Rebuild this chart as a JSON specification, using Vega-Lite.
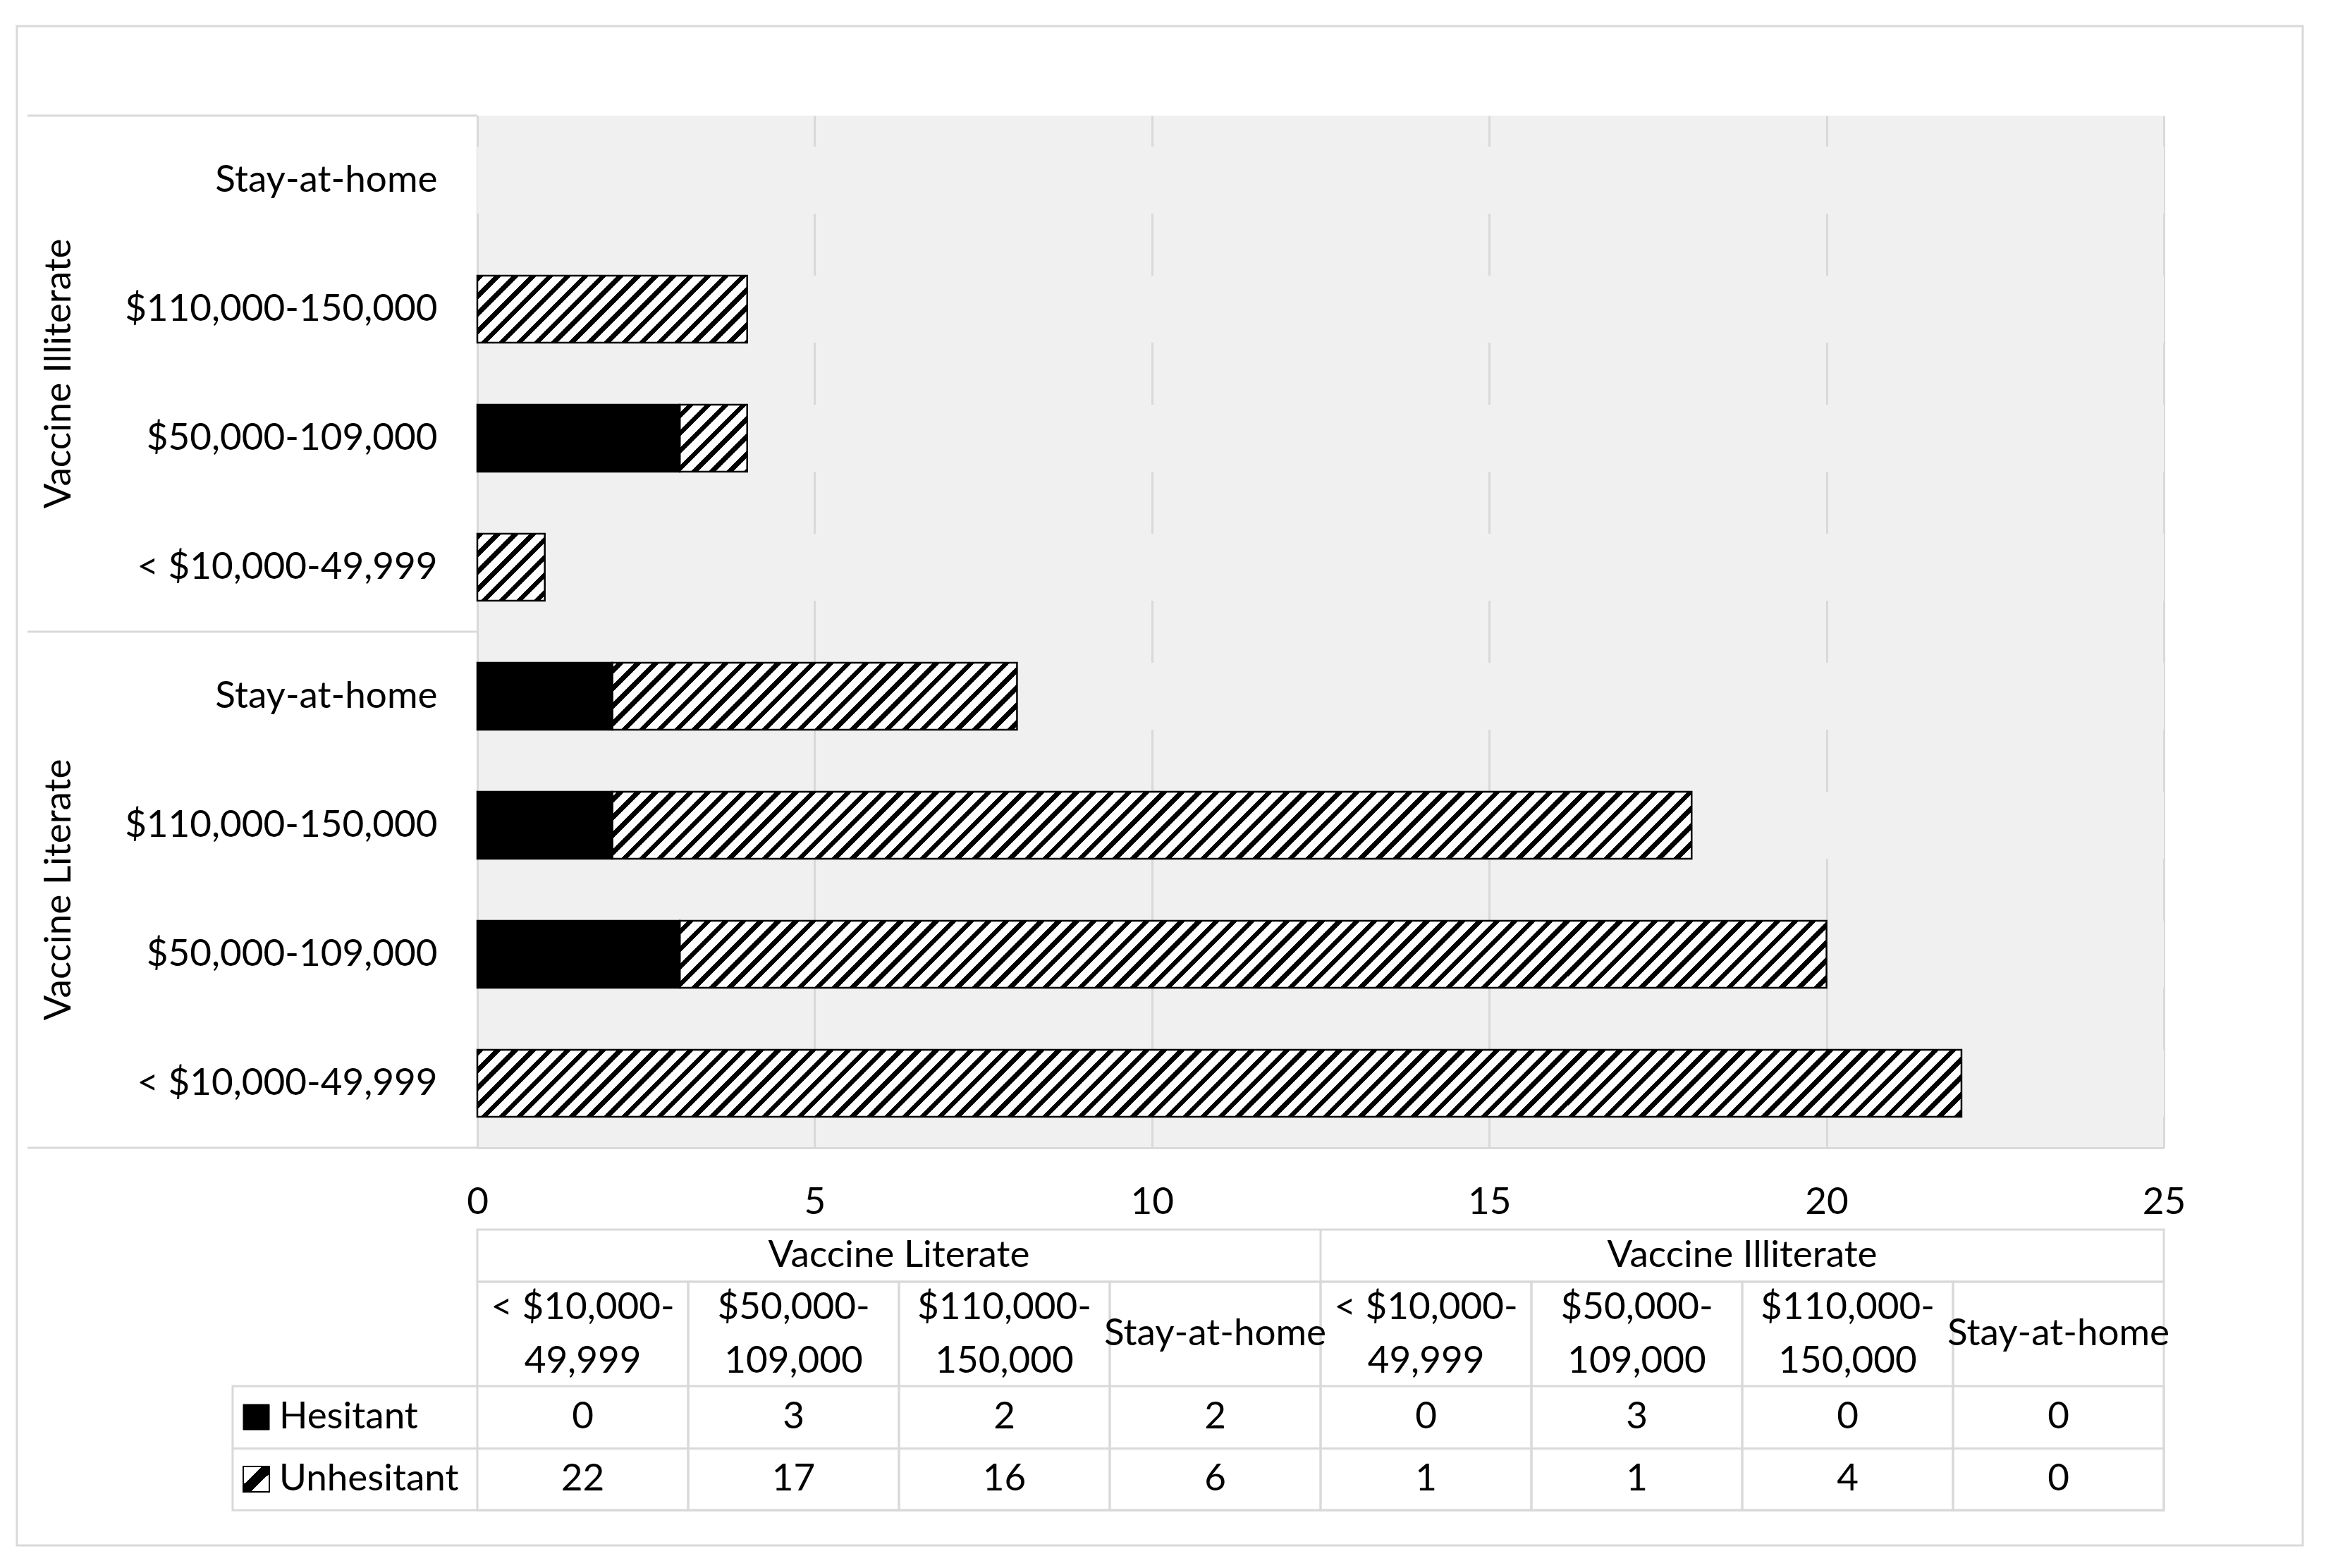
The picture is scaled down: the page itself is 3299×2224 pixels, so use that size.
{
  "$schema": "https://vega.github.io/schema/vega-lite/v6.json",
  "background": "white",
  "padding": {"left": 22, "top": 35, "right": 5, "bottom": 5},
  "bounds": "flush",
  "spacing": 116,
  "config": {
    "view": {"stroke": null},
    "font": "Lato",
    "text": {"font": "Lato", "fontSize": 53, "color": "#000000"}
  },
  "datasets": {
    "survey": [
      {"group": "Vaccine Literate", "income": "< $10,000-49,999", "category": "Vaccine Literate: < $10,000-49,999", "status": "Hesitant", "count": 0},
      {"group": "Vaccine Literate", "income": "< $10,000-49,999", "category": "Vaccine Literate: < $10,000-49,999", "status": "Unhesitant", "count": 22},
      {"group": "Vaccine Literate", "income": "$50,000-109,000", "category": "Vaccine Literate: $50,000-109,000", "status": "Hesitant", "count": 3},
      {"group": "Vaccine Literate", "income": "$50,000-109,000", "category": "Vaccine Literate: $50,000-109,000", "status": "Unhesitant", "count": 17},
      {"group": "Vaccine Literate", "income": "$110,000-150,000", "category": "Vaccine Literate: $110,000-150,000", "status": "Hesitant", "count": 2},
      {"group": "Vaccine Literate", "income": "$110,000-150,000", "category": "Vaccine Literate: $110,000-150,000", "status": "Unhesitant", "count": 16},
      {"group": "Vaccine Literate", "income": "Stay-at-home", "category": "Vaccine Literate: Stay-at-home", "status": "Hesitant", "count": 2},
      {"group": "Vaccine Literate", "income": "Stay-at-home", "category": "Vaccine Literate: Stay-at-home", "status": "Unhesitant", "count": 6},
      {"group": "Vaccine Illiterate", "income": "< $10,000-49,999", "category": "Vaccine Illiterate: < $10,000-49,999", "status": "Hesitant", "count": 0},
      {"group": "Vaccine Illiterate", "income": "< $10,000-49,999", "category": "Vaccine Illiterate: < $10,000-49,999", "status": "Unhesitant", "count": 1},
      {"group": "Vaccine Illiterate", "income": "$50,000-109,000", "category": "Vaccine Illiterate: $50,000-109,000", "status": "Hesitant", "count": 3},
      {"group": "Vaccine Illiterate", "income": "$50,000-109,000", "category": "Vaccine Illiterate: $50,000-109,000", "status": "Unhesitant", "count": 1},
      {"group": "Vaccine Illiterate", "income": "$110,000-150,000", "category": "Vaccine Illiterate: $110,000-150,000", "status": "Hesitant", "count": 0},
      {"group": "Vaccine Illiterate", "income": "$110,000-150,000", "category": "Vaccine Illiterate: $110,000-150,000", "status": "Unhesitant", "count": 4},
      {"group": "Vaccine Illiterate", "income": "Stay-at-home", "category": "Vaccine Illiterate: Stay-at-home", "status": "Hesitant", "count": 0},
      {"group": "Vaccine Illiterate", "income": "Stay-at-home", "category": "Vaccine Illiterate: Stay-at-home", "status": "Unhesitant", "count": 0}
    ]
  },
  "vconcat": [
    {
      "width": 2392,
      "height": 1464,
      "view": {"fill": "#f0f0f0", "stroke": null},
      "data": {"name": "survey"},
      "transform": [
        {"stack": "count", "groupby": ["category"], "sort": [{"field": "status", "order": "ascending"}], "as": ["x0", "x1"]}
      ],
      "resolve": {"scale": {"y": "independent"}},
      "layer": [
        {
          "transform": [{"filter": "datum.status === 'Unhesitant'"}],
          "mark": {
            "type": "bar",
            "height": {"band": 0.5191257},
            "stroke": null,
            "fill": {
              "gradient": "linear", "x1": 0, "y1": 0, "x2": 1.038079, "y2": 0.041229,
              "stops": [
                {"offset":0,"color":"#000"},{"offset":0.0038,"color":"#000"},{"offset":0.0038,"color":"#fff"},{"offset":0.01,"color":"#fff"},
                {"offset":0.01,"color":"#000"},{"offset":0.0138,"color":"#000"},{"offset":0.0138,"color":"#fff"},{"offset":0.02,"color":"#fff"},
                {"offset":0.02,"color":"#000"},{"offset":0.0238,"color":"#000"},{"offset":0.0238,"color":"#fff"},{"offset":0.03,"color":"#fff"},
                {"offset":0.03,"color":"#000"},{"offset":0.0338,"color":"#000"},{"offset":0.0338,"color":"#fff"},{"offset":0.04,"color":"#fff"},
                {"offset":0.04,"color":"#000"},{"offset":0.0438,"color":"#000"},{"offset":0.0438,"color":"#fff"},{"offset":0.05,"color":"#fff"},
                {"offset":0.05,"color":"#000"},{"offset":0.0538,"color":"#000"},{"offset":0.0538,"color":"#fff"},{"offset":0.06,"color":"#fff"},
                {"offset":0.06,"color":"#000"},{"offset":0.0638,"color":"#000"},{"offset":0.0638,"color":"#fff"},{"offset":0.07,"color":"#fff"},
                {"offset":0.07,"color":"#000"},{"offset":0.0738,"color":"#000"},{"offset":0.0738,"color":"#fff"},{"offset":0.08,"color":"#fff"},
                {"offset":0.08,"color":"#000"},{"offset":0.0838,"color":"#000"},{"offset":0.0838,"color":"#fff"},{"offset":0.09,"color":"#fff"},
                {"offset":0.09,"color":"#000"},{"offset":0.0938,"color":"#000"},{"offset":0.0938,"color":"#fff"},{"offset":0.10,"color":"#fff"},
                {"offset":0.10,"color":"#000"},{"offset":0.1038,"color":"#000"},{"offset":0.1038,"color":"#fff"},{"offset":0.11,"color":"#fff"},
                {"offset":0.11,"color":"#000"},{"offset":0.1138,"color":"#000"},{"offset":0.1138,"color":"#fff"},{"offset":0.12,"color":"#fff"},
                {"offset":0.12,"color":"#000"},{"offset":0.1238,"color":"#000"},{"offset":0.1238,"color":"#fff"},{"offset":0.13,"color":"#fff"},
                {"offset":0.13,"color":"#000"},{"offset":0.1338,"color":"#000"},{"offset":0.1338,"color":"#fff"},{"offset":0.14,"color":"#fff"},
                {"offset":0.14,"color":"#000"},{"offset":0.1438,"color":"#000"},{"offset":0.1438,"color":"#fff"},{"offset":0.15,"color":"#fff"},
                {"offset":0.15,"color":"#000"},{"offset":0.1538,"color":"#000"},{"offset":0.1538,"color":"#fff"},{"offset":0.16,"color":"#fff"},
                {"offset":0.16,"color":"#000"},{"offset":0.1638,"color":"#000"},{"offset":0.1638,"color":"#fff"},{"offset":0.17,"color":"#fff"},
                {"offset":0.17,"color":"#000"},{"offset":0.1738,"color":"#000"},{"offset":0.1738,"color":"#fff"},{"offset":0.18,"color":"#fff"},
                {"offset":0.18,"color":"#000"},{"offset":0.1838,"color":"#000"},{"offset":0.1838,"color":"#fff"},{"offset":0.19,"color":"#fff"},
                {"offset":0.19,"color":"#000"},{"offset":0.1938,"color":"#000"},{"offset":0.1938,"color":"#fff"},{"offset":0.20,"color":"#fff"},
                {"offset":0.20,"color":"#000"},{"offset":0.2038,"color":"#000"},{"offset":0.2038,"color":"#fff"},{"offset":0.21,"color":"#fff"},
                {"offset":0.21,"color":"#000"},{"offset":0.2138,"color":"#000"},{"offset":0.2138,"color":"#fff"},{"offset":0.22,"color":"#fff"},
                {"offset":0.22,"color":"#000"},{"offset":0.2238,"color":"#000"},{"offset":0.2238,"color":"#fff"},{"offset":0.23,"color":"#fff"},
                {"offset":0.23,"color":"#000"},{"offset":0.2338,"color":"#000"},{"offset":0.2338,"color":"#fff"},{"offset":0.24,"color":"#fff"},
                {"offset":0.24,"color":"#000"},{"offset":0.2438,"color":"#000"},{"offset":0.2438,"color":"#fff"},{"offset":0.25,"color":"#fff"},
                {"offset":0.25,"color":"#000"},{"offset":0.2538,"color":"#000"},{"offset":0.2538,"color":"#fff"},{"offset":0.26,"color":"#fff"},
                {"offset":0.26,"color":"#000"},{"offset":0.2638,"color":"#000"},{"offset":0.2638,"color":"#fff"},{"offset":0.27,"color":"#fff"},
                {"offset":0.27,"color":"#000"},{"offset":0.2738,"color":"#000"},{"offset":0.2738,"color":"#fff"},{"offset":0.28,"color":"#fff"},
                {"offset":0.28,"color":"#000"},{"offset":0.2838,"color":"#000"},{"offset":0.2838,"color":"#fff"},{"offset":0.29,"color":"#fff"},
                {"offset":0.29,"color":"#000"},{"offset":0.2938,"color":"#000"},{"offset":0.2938,"color":"#fff"},{"offset":0.30,"color":"#fff"},
                {"offset":0.30,"color":"#000"},{"offset":0.3038,"color":"#000"},{"offset":0.3038,"color":"#fff"},{"offset":0.31,"color":"#fff"},
                {"offset":0.31,"color":"#000"},{"offset":0.3138,"color":"#000"},{"offset":0.3138,"color":"#fff"},{"offset":0.32,"color":"#fff"},
                {"offset":0.32,"color":"#000"},{"offset":0.3238,"color":"#000"},{"offset":0.3238,"color":"#fff"},{"offset":0.33,"color":"#fff"},
                {"offset":0.33,"color":"#000"},{"offset":0.3338,"color":"#000"},{"offset":0.3338,"color":"#fff"},{"offset":0.34,"color":"#fff"},
                {"offset":0.34,"color":"#000"},{"offset":0.3438,"color":"#000"},{"offset":0.3438,"color":"#fff"},{"offset":0.35,"color":"#fff"},
                {"offset":0.35,"color":"#000"},{"offset":0.3538,"color":"#000"},{"offset":0.3538,"color":"#fff"},{"offset":0.36,"color":"#fff"},
                {"offset":0.36,"color":"#000"},{"offset":0.3638,"color":"#000"},{"offset":0.3638,"color":"#fff"},{"offset":0.37,"color":"#fff"},
                {"offset":0.37,"color":"#000"},{"offset":0.3738,"color":"#000"},{"offset":0.3738,"color":"#fff"},{"offset":0.38,"color":"#fff"},
                {"offset":0.38,"color":"#000"},{"offset":0.3838,"color":"#000"},{"offset":0.3838,"color":"#fff"},{"offset":0.39,"color":"#fff"},
                {"offset":0.39,"color":"#000"},{"offset":0.3938,"color":"#000"},{"offset":0.3938,"color":"#fff"},{"offset":0.40,"color":"#fff"},
                {"offset":0.40,"color":"#000"},{"offset":0.4038,"color":"#000"},{"offset":0.4038,"color":"#fff"},{"offset":0.41,"color":"#fff"},
                {"offset":0.41,"color":"#000"},{"offset":0.4138,"color":"#000"},{"offset":0.4138,"color":"#fff"},{"offset":0.42,"color":"#fff"},
                {"offset":0.42,"color":"#000"},{"offset":0.4238,"color":"#000"},{"offset":0.4238,"color":"#fff"},{"offset":0.43,"color":"#fff"},
                {"offset":0.43,"color":"#000"},{"offset":0.4338,"color":"#000"},{"offset":0.4338,"color":"#fff"},{"offset":0.44,"color":"#fff"},
                {"offset":0.44,"color":"#000"},{"offset":0.4438,"color":"#000"},{"offset":0.4438,"color":"#fff"},{"offset":0.45,"color":"#fff"},
                {"offset":0.45,"color":"#000"},{"offset":0.4538,"color":"#000"},{"offset":0.4538,"color":"#fff"},{"offset":0.46,"color":"#fff"},
                {"offset":0.46,"color":"#000"},{"offset":0.4638,"color":"#000"},{"offset":0.4638,"color":"#fff"},{"offset":0.47,"color":"#fff"},
                {"offset":0.47,"color":"#000"},{"offset":0.4738,"color":"#000"},{"offset":0.4738,"color":"#fff"},{"offset":0.48,"color":"#fff"},
                {"offset":0.48,"color":"#000"},{"offset":0.4838,"color":"#000"},{"offset":0.4838,"color":"#fff"},{"offset":0.49,"color":"#fff"},
                {"offset":0.49,"color":"#000"},{"offset":0.4938,"color":"#000"},{"offset":0.4938,"color":"#fff"},{"offset":0.50,"color":"#fff"},
                {"offset":0.50,"color":"#000"},{"offset":0.5038,"color":"#000"},{"offset":0.5038,"color":"#fff"},{"offset":0.51,"color":"#fff"},
                {"offset":0.51,"color":"#000"},{"offset":0.5138,"color":"#000"},{"offset":0.5138,"color":"#fff"},{"offset":0.52,"color":"#fff"},
                {"offset":0.52,"color":"#000"},{"offset":0.5238,"color":"#000"},{"offset":0.5238,"color":"#fff"},{"offset":0.53,"color":"#fff"},
                {"offset":0.53,"color":"#000"},{"offset":0.5338,"color":"#000"},{"offset":0.5338,"color":"#fff"},{"offset":0.54,"color":"#fff"},
                {"offset":0.54,"color":"#000"},{"offset":0.5438,"color":"#000"},{"offset":0.5438,"color":"#fff"},{"offset":0.55,"color":"#fff"},
                {"offset":0.55,"color":"#000"},{"offset":0.5538,"color":"#000"},{"offset":0.5538,"color":"#fff"},{"offset":0.56,"color":"#fff"},
                {"offset":0.56,"color":"#000"},{"offset":0.5638,"color":"#000"},{"offset":0.5638,"color":"#fff"},{"offset":0.57,"color":"#fff"},
                {"offset":0.57,"color":"#000"},{"offset":0.5738,"color":"#000"},{"offset":0.5738,"color":"#fff"},{"offset":0.58,"color":"#fff"},
                {"offset":0.58,"color":"#000"},{"offset":0.5838,"color":"#000"},{"offset":0.5838,"color":"#fff"},{"offset":0.59,"color":"#fff"},
                {"offset":0.59,"color":"#000"},{"offset":0.5938,"color":"#000"},{"offset":0.5938,"color":"#fff"},{"offset":0.60,"color":"#fff"},
                {"offset":0.60,"color":"#000"},{"offset":0.6038,"color":"#000"},{"offset":0.6038,"color":"#fff"},{"offset":0.61,"color":"#fff"},
                {"offset":0.61,"color":"#000"},{"offset":0.6138,"color":"#000"},{"offset":0.6138,"color":"#fff"},{"offset":0.62,"color":"#fff"},
                {"offset":0.62,"color":"#000"},{"offset":0.6238,"color":"#000"},{"offset":0.6238,"color":"#fff"},{"offset":0.63,"color":"#fff"},
                {"offset":0.63,"color":"#000"},{"offset":0.6338,"color":"#000"},{"offset":0.6338,"color":"#fff"},{"offset":0.64,"color":"#fff"},
                {"offset":0.64,"color":"#000"},{"offset":0.6438,"color":"#000"},{"offset":0.6438,"color":"#fff"},{"offset":0.65,"color":"#fff"},
                {"offset":0.65,"color":"#000"},{"offset":0.6538,"color":"#000"},{"offset":0.6538,"color":"#fff"},{"offset":0.66,"color":"#fff"},
                {"offset":0.66,"color":"#000"},{"offset":0.6638,"color":"#000"},{"offset":0.6638,"color":"#fff"},{"offset":0.67,"color":"#fff"},
                {"offset":0.67,"color":"#000"},{"offset":0.6738,"color":"#000"},{"offset":0.6738,"color":"#fff"},{"offset":0.68,"color":"#fff"},
                {"offset":0.68,"color":"#000"},{"offset":0.6838,"color":"#000"},{"offset":0.6838,"color":"#fff"},{"offset":0.69,"color":"#fff"},
                {"offset":0.69,"color":"#000"},{"offset":0.6938,"color":"#000"},{"offset":0.6938,"color":"#fff"},{"offset":0.70,"color":"#fff"},
                {"offset":0.70,"color":"#000"},{"offset":0.7038,"color":"#000"},{"offset":0.7038,"color":"#fff"},{"offset":0.71,"color":"#fff"},
                {"offset":0.71,"color":"#000"},{"offset":0.7138,"color":"#000"},{"offset":0.7138,"color":"#fff"},{"offset":0.72,"color":"#fff"},
                {"offset":0.72,"color":"#000"},{"offset":0.7238,"color":"#000"},{"offset":0.7238,"color":"#fff"},{"offset":0.73,"color":"#fff"},
                {"offset":0.73,"color":"#000"},{"offset":0.7338,"color":"#000"},{"offset":0.7338,"color":"#fff"},{"offset":0.74,"color":"#fff"},
                {"offset":0.74,"color":"#000"},{"offset":0.7438,"color":"#000"},{"offset":0.7438,"color":"#fff"},{"offset":0.75,"color":"#fff"},
                {"offset":0.75,"color":"#000"},{"offset":0.7538,"color":"#000"},{"offset":0.7538,"color":"#fff"},{"offset":0.76,"color":"#fff"},
                {"offset":0.76,"color":"#000"},{"offset":0.7638,"color":"#000"},{"offset":0.7638,"color":"#fff"},{"offset":0.77,"color":"#fff"},
                {"offset":0.77,"color":"#000"},{"offset":0.7738,"color":"#000"},{"offset":0.7738,"color":"#fff"},{"offset":0.78,"color":"#fff"},
                {"offset":0.78,"color":"#000"},{"offset":0.7838,"color":"#000"},{"offset":0.7838,"color":"#fff"},{"offset":0.79,"color":"#fff"},
                {"offset":0.79,"color":"#000"},{"offset":0.7938,"color":"#000"},{"offset":0.7938,"color":"#fff"},{"offset":0.80,"color":"#fff"},
                {"offset":0.80,"color":"#000"},{"offset":0.8038,"color":"#000"},{"offset":0.8038,"color":"#fff"},{"offset":0.81,"color":"#fff"},
                {"offset":0.81,"color":"#000"},{"offset":0.8138,"color":"#000"},{"offset":0.8138,"color":"#fff"},{"offset":0.82,"color":"#fff"},
                {"offset":0.82,"color":"#000"},{"offset":0.8238,"color":"#000"},{"offset":0.8238,"color":"#fff"},{"offset":0.83,"color":"#fff"},
                {"offset":0.83,"color":"#000"},{"offset":0.8338,"color":"#000"},{"offset":0.8338,"color":"#fff"},{"offset":0.84,"color":"#fff"},
                {"offset":0.84,"color":"#000"},{"offset":0.8438,"color":"#000"},{"offset":0.8438,"color":"#fff"},{"offset":0.85,"color":"#fff"},
                {"offset":0.85,"color":"#000"},{"offset":0.8538,"color":"#000"},{"offset":0.8538,"color":"#fff"},{"offset":0.86,"color":"#fff"},
                {"offset":0.86,"color":"#000"},{"offset":0.8638,"color":"#000"},{"offset":0.8638,"color":"#fff"},{"offset":0.87,"color":"#fff"},
                {"offset":0.87,"color":"#000"},{"offset":0.8738,"color":"#000"},{"offset":0.8738,"color":"#fff"},{"offset":0.88,"color":"#fff"},
                {"offset":0.88,"color":"#000"},{"offset":0.8838,"color":"#000"},{"offset":0.8838,"color":"#fff"},{"offset":0.89,"color":"#fff"},
                {"offset":0.89,"color":"#000"},{"offset":0.8938,"color":"#000"},{"offset":0.8938,"color":"#fff"},{"offset":0.90,"color":"#fff"},
                {"offset":0.90,"color":"#000"},{"offset":0.9038,"color":"#000"},{"offset":0.9038,"color":"#fff"},{"offset":0.91,"color":"#fff"},
                {"offset":0.91,"color":"#000"},{"offset":0.9138,"color":"#000"},{"offset":0.9138,"color":"#fff"},{"offset":0.92,"color":"#fff"},
                {"offset":0.92,"color":"#000"},{"offset":0.9238,"color":"#000"},{"offset":0.9238,"color":"#fff"},{"offset":0.93,"color":"#fff"},
                {"offset":0.93,"color":"#000"},{"offset":0.9338,"color":"#000"},{"offset":0.9338,"color":"#fff"},{"offset":0.94,"color":"#fff"},
                {"offset":0.94,"color":"#000"},{"offset":0.9438,"color":"#000"},{"offset":0.9438,"color":"#fff"},{"offset":0.95,"color":"#fff"},
                {"offset":0.95,"color":"#000"},{"offset":0.9538,"color":"#000"},{"offset":0.9538,"color":"#fff"},{"offset":0.96,"color":"#fff"},
                {"offset":0.96,"color":"#000"},{"offset":0.9638,"color":"#000"},{"offset":0.9638,"color":"#fff"},{"offset":0.97,"color":"#fff"},
                {"offset":0.97,"color":"#000"},{"offset":0.9738,"color":"#000"},{"offset":0.9738,"color":"#fff"},{"offset":0.98,"color":"#fff"},
                {"offset":0.98,"color":"#000"},{"offset":0.9838,"color":"#000"},{"offset":0.9838,"color":"#fff"},{"offset":0.99,"color":"#fff"},
                {"offset":0.99,"color":"#000"},{"offset":0.9938,"color":"#000"},{"offset":0.9938,"color":"#fff"},{"offset":1,"color":"#fff"}
              ]
            }
          },
          "encoding": {
            "y": {
              "field": "category", "type": "nominal",
              "scale": {"domain": ["Vaccine Illiterate: Stay-at-home", "Vaccine Illiterate: $110,000-150,000", "Vaccine Illiterate: $50,000-109,000", "Vaccine Illiterate: < $10,000-49,999", "Vaccine Literate: Stay-at-home", "Vaccine Literate: $110,000-150,000", "Vaccine Literate: $50,000-109,000", "Vaccine Literate: < $10,000-49,999"], "paddingInner": 0, "paddingOuter": 0},
              "axis": {
                "title": null, "labelExpr": "split(datum.label, ': ')[1]",
                "domain": true, "domainColor": "#d9d9d9", "domainWidth": 3,
                "ticks": false, "tickSize": 0, "grid": false,
                "labelPadding": 57, "labelFont": "Lato", "labelFontSize": 53, "labelColor": "#000000", "labelLimit": 1000, "zindex": 0
              }
            },
            "x": {
              "datum": 0, "type": "quantitative", "title": null,
              "scale": {"domain": [0, 25], "nice": false, "zero": false},
              "axis": {
                "title": null, "values": [0, 5, 10, 15, 20, 25], "format": "d",
                "grid": true, "gridColor": "#d9d9d9", "gridWidth": 3,
                "domain": true, "domainColor": "#d9d9d9", "domainWidth": 3,
                "ticks": false, "tickSize": 0,
                "labelFont": "Lato", "labelFontSize": 53, "labelColor": "#000000",
                "labelPadding": 77, "labelBaseline": "middle", "labelFlush": false, "labelOverlap": false, "zindex": 0
              }
            },
            "x2": {"datum": 25}
          }
        },
        {
          "transform": [{"filter": "datum.status === 'Unhesitant'"}],
          "mark": {"type": "bar", "height": {"band": 0.5191257}, "fill": "#f0f0f0", "stroke": null},
          "encoding": {
            "y": {"field": "category", "type": "nominal", "axis": null,
              "scale": {"domain": ["Vaccine Illiterate: Stay-at-home", "Vaccine Illiterate: $110,000-150,000", "Vaccine Illiterate: $50,000-109,000", "Vaccine Illiterate: < $10,000-49,999", "Vaccine Literate: Stay-at-home", "Vaccine Literate: $110,000-150,000", "Vaccine Literate: $50,000-109,000", "Vaccine Literate: < $10,000-49,999"], "paddingInner": 0, "paddingOuter": 0}},
            "x": {"field": "x1", "type": "quantitative", "title": null, "scale": {"domain": [0, 25], "nice": false, "zero": false}},
            "x2": {"datum": 25}
          }
        },
        {
          "transform": [{"filter": "datum.status === 'Hesitant' && datum.count > 0"}],
          "mark": {"type": "bar", "height": {"band": 0.5191257}, "fill": "#000000", "stroke": "#000000", "strokeWidth": 2.5},
          "encoding": {
            "y": {"field": "category", "type": "nominal", "axis": null,
              "scale": {"domain": ["Vaccine Illiterate: Stay-at-home", "Vaccine Illiterate: $110,000-150,000", "Vaccine Illiterate: $50,000-109,000", "Vaccine Illiterate: < $10,000-49,999", "Vaccine Literate: Stay-at-home", "Vaccine Literate: $110,000-150,000", "Vaccine Literate: $50,000-109,000", "Vaccine Literate: < $10,000-49,999"], "paddingInner": 0, "paddingOuter": 0}},
            "x": {"field": "x0", "type": "quantitative", "title": null, "scale": {"domain": [0, 25], "nice": false, "zero": false}},
            "x2": {"field": "x1"}
          }
        },
        {
          "transform": [{"filter": "datum.status === 'Unhesitant' && datum.count > 0"}],
          "mark": {"type": "bar", "height": {"band": 0.5191257}, "fill": "transparent", "stroke": "#000000", "strokeWidth": 2.5},
          "encoding": {
            "y": {"field": "category", "type": "nominal", "axis": null,
              "scale": {"domain": ["Vaccine Illiterate: Stay-at-home", "Vaccine Illiterate: $110,000-150,000", "Vaccine Illiterate: $50,000-109,000", "Vaccine Illiterate: < $10,000-49,999", "Vaccine Literate: Stay-at-home", "Vaccine Literate: $110,000-150,000", "Vaccine Literate: $50,000-109,000", "Vaccine Literate: < $10,000-49,999"], "paddingInner": 0, "paddingOuter": 0}},
            "x": {"field": "x0", "type": "quantitative", "title": null, "scale": {"domain": [0, 25], "nice": false, "zero": false}},
            "x2": {"field": "x1"}
          }
        },
        {
          "data": {"values": [{}]},
          "mark": {"type": "rule", "stroke": "#d9d9d9", "strokeWidth": 3},
          "encoding": {
            "x": {"datum": -6.668, "type": "quantitative", "title": null, "scale": {"domain": [0, 25], "nice": false, "zero": false}},
            "x2": {"datum": 0},
            "y": {"datum": 8, "type": "quantitative", "axis": null, "scale": {"domain": [0, 8], "nice": false, "zero": false}}
          }
        },
        {
          "data": {"values": [{}]},
          "mark": {"type": "rule", "stroke": "#d9d9d9", "strokeWidth": 3},
          "encoding": {
            "x": {"datum": -6.668, "type": "quantitative", "title": null, "scale": {"domain": [0, 25], "nice": false, "zero": false}},
            "x2": {"datum": 0},
            "y": {"datum": 4, "type": "quantitative", "axis": null, "scale": {"domain": [0, 8], "nice": false, "zero": false}}
          }
        },
        {
          "data": {"values": [{}]},
          "mark": {"type": "rule", "stroke": "#d9d9d9", "strokeWidth": 3},
          "encoding": {
            "x": {"datum": -6.668, "type": "quantitative", "title": null, "scale": {"domain": [0, 25], "nice": false, "zero": false}},
            "x2": {"datum": 0},
            "y": {"datum": 0, "type": "quantitative", "axis": null, "scale": {"domain": [0, 8], "nice": false, "zero": false}}
          }
        },
        {
          "transform": [{"aggregate": [{"op": "count", "as": "n"}], "groupby": ["group"]}],
          "mark": {"type": "text", "angle": 270, "align": "center", "baseline": "middle", "fontSize": 53},
          "encoding": {
            "text": {"field": "group"},
            "x": {"datum": -6.198, "type": "quantitative", "title": null, "scale": {"domain": [0, 25], "nice": false, "zero": false}},
            "y": {"field": "group", "type": "nominal", "axis": null, "scale": {"type": "band", "domain": ["Vaccine Illiterate", "Vaccine Literate"], "paddingInner": 0, "paddingOuter": 0}}
          }
        }
      ]
    },
    {
      "width": 2392,
      "height": 398,
      "view": {"stroke": null},
      "data": {"name": "survey"},
      "resolve": {"scale": {"x": "independent"}},
      "layer": [
        {
          "transform": [{"filter": "datum.status === 'Hesitant'"}],
          "mark": {"type": "rect", "fill": null, "stroke": "#d9d9d9", "strokeWidth": 3},
          "encoding": {
            "x": {"field": "category", "type": "nominal", "axis": null, "scale": {"type": "band", "domain": ["Vaccine Literate: < $10,000-49,999", "Vaccine Literate: $50,000-109,000", "Vaccine Literate: $110,000-150,000", "Vaccine Literate: Stay-at-home", "Vaccine Illiterate: < $10,000-49,999", "Vaccine Illiterate: $50,000-109,000", "Vaccine Illiterate: $110,000-150,000", "Vaccine Illiterate: Stay-at-home"], "paddingInner": 0, "paddingOuter": 0}},
            "y": {"datum": 74, "type": "quantitative", "axis": null, "scale": {"domain": [0, 398], "reverse": true, "nice": false, "zero": false}},
            "y2": {"datum": 398}
          }
        },
        {
          "data": {"values": [{}]},
          "mark": {"type": "rect", "fill": null, "stroke": "#d9d9d9", "strokeWidth": 3},
          "encoding": {
            "x": {"datum": 0, "type": "quantitative", "axis": null, "scale": {"domain": [0, 25], "nice": false, "zero": false}},
            "x2": {"datum": 25},
            "y": {"datum": 0, "type": "quantitative", "axis": null, "scale": {"domain": [0, 398], "reverse": true, "nice": false, "zero": false}},
            "y2": {"datum": 74}
          }
        },
        {
          "data": {"values": [{}]},
          "mark": {"type": "rule", "stroke": "#d9d9d9", "strokeWidth": 3},
          "encoding": {
            "x": {"datum": 12.5, "type": "quantitative", "axis": null, "scale": {"domain": [0, 25], "nice": false, "zero": false}},
            "y": {"datum": 0, "type": "quantitative", "axis": null, "scale": {"domain": [0, 398], "reverse": true, "nice": false, "zero": false}},
            "y2": {"datum": 74}
          }
        },
        {
          "data": {"values": [{}]},
          "mark": {"type": "rect", "fill": null, "stroke": "#d9d9d9", "strokeWidth": 3},
          "encoding": {
            "x": {"datum": -3.627, "type": "quantitative", "axis": null, "scale": {"domain": [0, 25], "nice": false, "zero": false}},
            "x2": {"datum": 25},
            "y": {"datum": 222, "type": "quantitative", "axis": null, "scale": {"domain": [0, 398], "reverse": true, "nice": false, "zero": false}},
            "y2": {"datum": 310.5}
          }
        },
        {
          "data": {"values": [{}]},
          "mark": {"type": "rect", "fill": null, "stroke": "#d9d9d9", "strokeWidth": 3},
          "encoding": {
            "x": {"datum": -3.627, "type": "quantitative", "axis": null, "scale": {"domain": [0, 25], "nice": false, "zero": false}},
            "x2": {"datum": 25},
            "y": {"datum": 310.5, "type": "quantitative", "axis": null, "scale": {"domain": [0, 398], "reverse": true, "nice": false, "zero": false}},
            "y2": {"datum": 398}
          }
        },
        {
          "data": {"values": [{}]},
          "mark": {"type": "rect", "fill": null, "stroke": "#d9d9d9", "strokeWidth": 3},
          "encoding": {
            "x": {"datum": -6.825, "type": "quantitative", "axis": null, "scale": {"domain": [0, 25], "nice": false, "zero": false}},
            "x2": {"datum": 27.059},
            "y": {"datum": -1707, "type": "quantitative", "axis": null, "scale": {"domain": [0, 398], "reverse": true, "nice": false, "zero": false}},
            "y2": {"datum": 448}
          }
        },
        {
          "transform": [{"aggregate": [{"op": "count", "as": "n"}], "groupby": ["group"]}],
          "mark": {"type": "text", "align": "center", "baseline": "middle"},
          "encoding": {
            "text": {"field": "group"},
            "x": {"field": "group", "type": "nominal", "axis": null, "scale": {"type": "band", "domain": ["Vaccine Literate", "Vaccine Illiterate"], "paddingInner": 0, "paddingOuter": 0}},
            "y": {"datum": 37, "type": "quantitative", "axis": null, "scale": {"domain": [0, 398], "reverse": true, "nice": false, "zero": false}}
          }
        },
        {
          "transform": [{"filter": "datum.status === 'Hesitant' && datum.income !== 'Stay-at-home'"}],
          "mark": {"type": "text", "align": "center", "baseline": "middle", "lineHeight": 76, "lineBreak": {"expr": "regexp('(?<=-)(?=[0-9])')"}},
          "encoding": {
            "text": {"field": "income"},
            "x": {"field": "category", "type": "nominal", "axis": null, "scale": {"type": "band", "domain": ["Vaccine Literate: < $10,000-49,999", "Vaccine Literate: $50,000-109,000", "Vaccine Literate: $110,000-150,000", "Vaccine Literate: Stay-at-home", "Vaccine Illiterate: < $10,000-49,999", "Vaccine Illiterate: $50,000-109,000", "Vaccine Illiterate: $110,000-150,000", "Vaccine Illiterate: Stay-at-home"], "paddingInner": 0, "paddingOuter": 0}},
            "y": {"datum": 111, "type": "quantitative", "axis": null, "scale": {"domain": [0, 398], "reverse": true, "nice": false, "zero": false}}
          }
        },
        {
          "transform": [{"filter": "datum.status === 'Hesitant' && datum.income === 'Stay-at-home'"}],
          "mark": {"type": "text", "align": "center", "baseline": "middle"},
          "encoding": {
            "text": {"field": "income"},
            "x": {"field": "category", "type": "nominal", "axis": null, "scale": {"type": "band", "domain": ["Vaccine Literate: < $10,000-49,999", "Vaccine Literate: $50,000-109,000", "Vaccine Literate: $110,000-150,000", "Vaccine Literate: Stay-at-home", "Vaccine Illiterate: < $10,000-49,999", "Vaccine Illiterate: $50,000-109,000", "Vaccine Illiterate: $110,000-150,000", "Vaccine Illiterate: Stay-at-home"], "paddingInner": 0, "paddingOuter": 0}},
            "y": {"datum": 148, "type": "quantitative", "axis": null, "scale": {"domain": [0, 398], "reverse": true, "nice": false, "zero": false}}
          }
        },
        {
          "transform": [{"filter": "datum.status === 'Hesitant'"}],
          "mark": {"type": "text", "align": "center", "baseline": "middle"},
          "encoding": {
            "text": {"field": "count", "type": "quantitative"},
            "x": {"field": "category", "type": "nominal", "axis": null, "scale": {"type": "band", "domain": ["Vaccine Literate: < $10,000-49,999", "Vaccine Literate: $50,000-109,000", "Vaccine Literate: $110,000-150,000", "Vaccine Literate: Stay-at-home", "Vaccine Illiterate: < $10,000-49,999", "Vaccine Illiterate: $50,000-109,000", "Vaccine Illiterate: $110,000-150,000", "Vaccine Illiterate: Stay-at-home"], "paddingInner": 0, "paddingOuter": 0}},
            "y": {"datum": 266, "type": "quantitative", "axis": null, "scale": {"domain": [0, 398], "reverse": true, "nice": false, "zero": false}}
          }
        },
        {
          "transform": [{"filter": "datum.status === 'Unhesitant'"}],
          "mark": {"type": "text", "align": "center", "baseline": "middle"},
          "encoding": {
            "text": {"field": "count", "type": "quantitative"},
            "x": {"field": "category", "type": "nominal", "axis": null, "scale": {"type": "band", "domain": ["Vaccine Literate: < $10,000-49,999", "Vaccine Literate: $50,000-109,000", "Vaccine Literate: $110,000-150,000", "Vaccine Literate: Stay-at-home", "Vaccine Illiterate: < $10,000-49,999", "Vaccine Illiterate: $50,000-109,000", "Vaccine Illiterate: $110,000-150,000", "Vaccine Illiterate: Stay-at-home"], "paddingInner": 0, "paddingOuter": 0}},
            "y": {"datum": 354, "type": "quantitative", "axis": null, "scale": {"domain": [0, 398], "reverse": true, "nice": false, "zero": false}}
          }
        },
        {
          "transform": [{"filter": "datum.status === 'Hesitant'"}, {"aggregate": [{"op": "count", "as": "n"}], "groupby": ["status"]}],
          "layer": [
            {
              "mark": {"type": "rect", "fill": "#000000", "stroke": "#000000", "strokeWidth": 1},
              "encoding": {
                "x": {"datum": -3.470, "type": "quantitative", "axis": null, "scale": {"domain": [0, 25], "nice": false, "zero": false}},
                "x2": {"datum": -3.083},
                "y": {"datum": 248, "type": "quantitative", "axis": null, "scale": {"domain": [0, 398], "reverse": true, "nice": false, "zero": false}},
                "y2": {"datum": 284}
              }
            },
            {
              "mark": {"type": "text", "align": "left", "baseline": "middle"},
              "encoding": {
                "text": {"field": "status"},
                "x": {"datum": -2.937, "type": "quantitative", "axis": null, "scale": {"domain": [0, 25], "nice": false, "zero": false}},
                "y": {"datum": 266, "type": "quantitative", "axis": null, "scale": {"domain": [0, 398], "reverse": true, "nice": false, "zero": false}}
              }
            }
          ]
        },
        {
          "transform": [{"filter": "datum.status === 'Unhesitant'"}, {"aggregate": [{"op": "count", "as": "n"}], "groupby": ["status"]}],
          "layer": [
            {
              "mark": {
                "type": "rect", "stroke": "#000000", "strokeWidth": 2,
                "fill": {
                  "gradient": "linear", "x1": 0, "y1": 0, "x2": 1, "y2": 1,
                  "stops": [
                    {"offset": 0, "color": "#fff"}, {"offset": 0.36, "color": "#fff"},
                    {"offset": 0.36, "color": "#000"}, {"offset": 0.64, "color": "#000"},
                    {"offset": 0.64, "color": "#fff"}, {"offset": 1, "color": "#fff"}
                  ]
                }
              },
              "encoding": {
                "x": {"datum": -3.470, "type": "quantitative", "axis": null, "scale": {"domain": [0, 25], "nice": false, "zero": false}},
                "x2": {"datum": -3.083},
                "y": {"datum": 336, "type": "quantitative", "axis": null, "scale": {"domain": [0, 398], "reverse": true, "nice": false, "zero": false}},
                "y2": {"datum": 372}
              }
            },
            {
              "mark": {"type": "text", "align": "left", "baseline": "middle"},
              "encoding": {
                "text": {"field": "status"},
                "x": {"datum": -2.937, "type": "quantitative", "axis": null, "scale": {"domain": [0, 25], "nice": false, "zero": false}},
                "y": {"datum": 354, "type": "quantitative", "axis": null, "scale": {"domain": [0, 398], "reverse": true, "nice": false, "zero": false}}
              }
            }
          ]
        }
      ]
    }
  ]
}
